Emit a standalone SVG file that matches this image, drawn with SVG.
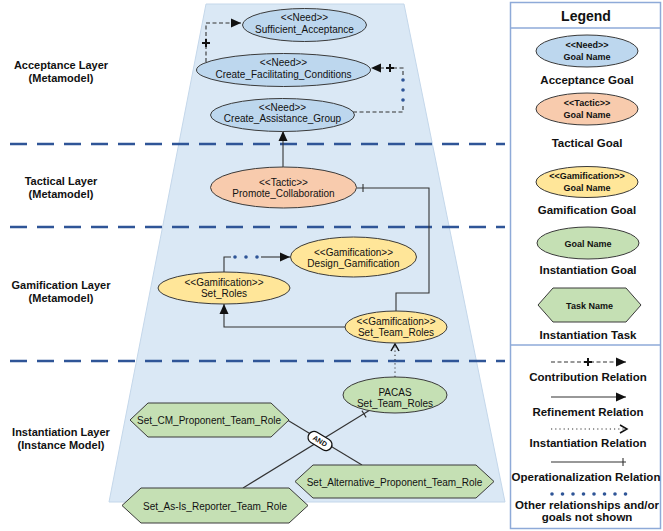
<svg xmlns="http://www.w3.org/2000/svg" width="663" height="531" viewBox="0 0 663 531">
<defs>
<style>
text{font-family:"Liberation Sans",Arial,sans-serif;fill:#111;text-anchor:middle}
.n{font-size:10px}
.lay{font-size:11px;font-weight:bold}
.lg{font-size:11.5px;font-weight:bold}
.ls{font-size:9px;font-weight:bold}
.need{fill:#bdd7ee;stroke:#3a3a3a;stroke-width:1}
.tac{fill:#f8cbad;stroke:#3a3a3a;stroke-width:1}
.gam{fill:#ffe699;stroke:#3a3a3a;stroke-width:1}
.ins{fill:#c5e0b4;stroke:#3a3a3a;stroke-width:1}
.e{fill:none;stroke:#333;stroke-width:1.1}
.dash{stroke-dasharray:4 2.5}
.dot{stroke-dasharray:1.2 3}
.sep{fill:none;stroke:#2f5597;stroke-width:2.5;stroke-dasharray:17 10}
.bd{fill:#2f5597}
.plus{stroke:#111;stroke-width:2;fill:none}
</style>
<marker id="af" markerUnits="userSpaceOnUse" markerWidth="10" markerHeight="10" refX="10" refY="5" orient="auto" viewBox="0 0 10 10">
<path d="M0,0.5 L10,5 L0,9.5 z" fill="#111"/>
</marker>
</defs>

<!-- trapezoid background -->
<polygon points="206,4 404,4 505,502 109,502" fill="#dae8f5" stroke="#c4d7ea" stroke-width="1"/>

<!-- layer separators -->
<g id="separators">
<line class="sep" x1="10" y1="144" x2="505" y2="144"/>
<line class="sep" x1="10" y1="227" x2="505" y2="227"/>
<line class="sep" x1="10" y1="361" x2="505" y2="361"/>
</g>

<!-- layer labels -->
<g id="layer-labels">
<text class="lay" x="61" y="69">Acceptance Layer</text>
<text class="lay" x="61" y="82">(Metamodel)</text>
<text class="lay" x="61" y="185">Tactical Layer</text>
<text class="lay" x="61" y="198">(Metamodel)</text>
<text class="lay" x="61" y="289">Gamification Layer</text>
<text class="lay" x="61" y="302">(Metamodel)</text>
<text class="lay" x="61" y="436">Instantiation Layer</text>
<text class="lay" x="61" y="449">(Instance Model)</text>
</g>

<!-- connectors -->
<g id="connectors">
<!-- CFC -> Sufficient_Acceptance (contribution) -->
<path class="e dash" d="M206,62 V23 H241" marker-end="url(#af)"/>
<path class="plus" d="M202,43 H210 M206,39 V47"/>
<!-- CAG -> CFC (contribution, others not shown) -->
<path class="e dash" d="M353,112 H403 V105"/>
<path class="e dash" d="M403,75 V68 H371" marker-end="url(#af)"/>
<circle class="bd" cx="403" cy="80" r="1.8"/>
<circle class="bd" cx="403" cy="90" r="1.8"/>
<circle class="bd" cx="403" cy="100" r="1.8"/>
<path class="plus" d="M386,68 H394 M390,64 V72"/>
<!-- Promote -> CAG (refinement) -->
<path class="e" d="M283,167 V131" marker-end="url(#af)"/>
<!-- Set_Team_Roles -> Promote (operationalization) -->
<path class="e" d="M396,311 V293 H429 V188 H357"/>
<path class="e" d="M363,184 V192"/>
<!-- Set_Roles -> Design_Gamification -->
<path class="e" d="M224,272 V257 H231"/>
<circle class="bd" cx="235" cy="257" r="1.8"/>
<circle class="bd" cx="246" cy="257" r="1.8"/>
<circle class="bd" cx="257" cy="257" r="1.8"/>
<path class="e" d="M261,257 H290" marker-end="url(#af)"/>
<!-- Set_Team_Roles -> Set_Roles (refinement) -->
<path class="e" d="M345,327 H224 V304" marker-end="url(#af)"/>
<!-- PACAS -> Set_Team_Roles (instantiation) -->
<path class="e dot" d="M395,377 V345"/>
<path d="M391,351 L395,344 L399,351" fill="none" stroke="#111" stroke-width="1.5"/>
<!-- AND decomposition -->
<path class="e" d="M284,418 L362,465"/>
<path class="e" d="M243,488 L370,410"/>
<path class="e" d="M361.9,410.6 L366.1,417.4"/>
<g transform="translate(320,441) rotate(31)">
<rect x="-13" y="-6" width="26" height="12" rx="6" fill="#fff" stroke="#111" stroke-width="1.3"/>
<text x="0" y="2.5" style="font-size:7px;font-weight:bold">AND</text>
</g>
</g>

<!-- nodes -->
<g id="sufficient-acceptance">
<ellipse class="need" cx="304.5" cy="25" rx="62" ry="16.5"/>
<text class="n" x="304.5" y="20.5">&lt;&lt;Need&gt;&gt;</text>
<text class="n" x="304.5" y="32.5">Sufficient_Acceptance</text>
</g>
<g id="create-facilitating-conditions">
<ellipse class="need" cx="283.5" cy="70" rx="87" ry="16.5"/>
<text class="n" x="283.5" y="65.5">&lt;&lt;Need&gt;&gt;</text>
<text class="n" x="283.5" y="77.5">Create_Facilitating_Conditions</text>
</g>
<g id="create-assistance-group">
<ellipse class="need" cx="282.5" cy="115" rx="72" ry="16.5"/>
<text class="n" x="282.5" y="110.5">&lt;&lt;Need&gt;&gt;</text>
<text class="n" x="282.5" y="121.5">Create_Assistance_Group</text>
</g>
<g id="promote-collaboration">
<ellipse class="tac" cx="283.5" cy="187.5" rx="73" ry="20.5"/>
<text class="n" x="283.5" y="186">&lt;&lt;Tactic&gt;&gt;</text>
<text class="n" x="283.5" y="197">Promote_Collaboration</text>
</g>
<g id="design-gamification">
<ellipse class="gam" cx="353.5" cy="257" rx="63" ry="20"/>
<text class="n" x="353.5" y="255.5">&lt;&lt;Gamification&gt;&gt;</text>
<text class="n" x="353.5" y="266.5">Design_Gamification</text>
</g>
<g id="set-roles">
<ellipse class="gam" cx="224" cy="288" rx="66" ry="16"/>
<text class="n" x="224" y="285.5">&lt;&lt;Gamification&gt;&gt;</text>
<text class="n" x="224" y="296.5">Set_Roles</text>
</g>
<g id="set-team-roles">
<ellipse class="gam" cx="396" cy="327" rx="51" ry="16"/>
<text class="n" x="396" y="325">&lt;&lt;Gamification&gt;&gt;</text>
<text class="n" x="396" y="336">Set_Team_Roles</text>
</g>
<g id="pacas-set-team-roles">
<ellipse class="ins" cx="395" cy="395" rx="52" ry="18"/>
<text class="n" x="395" y="395.5">PACAS</text>
<text class="n" x="395" y="406.5">Set_Team_Roles</text>
</g>
<g id="set-cm-proponent-team-role">
<polygon class="ins" points="130,420 148,403 271,403 289,420 271,437 148,437"/>
<text class="n" x="209" y="423.5">Set_CM_Proponent_Team_Role</text>
</g>
<g id="set-alternative-proponent-team-role">
<polygon class="ins" points="295,481.5 313,465 476,465 494,481.5 476,498 313,498"/>
<text class="n" x="394.5" y="486">Set_Alternative_Proponent_Team_Role</text>
</g>
<g id="set-as-is-reporter-team-role">
<polygon class="ins" points="122,505.5 141,488 289,488 308,505.5 289,523 141,523"/>
<text class="n" x="215" y="509.5">Set_As-Is_Reporter_Team_Role</text>
</g>

<!-- legend -->
<g id="legend">
<rect x="510.5" y="2.5" width="150" height="526" fill="#fff" stroke="#8eaad8" stroke-width="1.5"/>
<line x1="510.5" y1="28" x2="660.5" y2="28" stroke="#8eaad8" stroke-width="1.5"/>
<line x1="510.5" y1="345" x2="660.5" y2="345" stroke="#8eaad8" stroke-width="1.5"/>
<text x="586" y="20.5" style="font-size:14px;font-weight:bold">Legend</text>

<g id="legend-acceptance-goal">
<ellipse class="need" cx="587" cy="51" rx="51" ry="16"/>
<text class="ls" x="587" y="47.5">&lt;&lt;Need&gt;&gt;</text>
<text class="ls" x="587" y="60">Goal Name</text>
<text class="lg" x="587" y="84">Acceptance Goal</text>
</g>
<g id="legend-tactical-goal">
<ellipse class="tac" cx="587" cy="109" rx="51" ry="16"/>
<text class="ls" x="587" y="105.5">&lt;&lt;Tactic&gt;&gt;</text>
<text class="ls" x="587" y="118">Goal Name</text>
<text class="lg" x="587" y="147">Tactical Goal</text>
</g>
<g id="legend-gamification-goal">
<ellipse class="gam" cx="587" cy="182" rx="51" ry="15.5"/>
<text class="ls" x="587" y="178.5">&lt;&lt;Gamification&gt;&gt;</text>
<text class="ls" x="587" y="190.5">Goal Name</text>
<text class="lg" x="587" y="214">Gamification Goal</text>
</g>
<g id="legend-instantiation-goal">
<ellipse class="ins" cx="588" cy="243" rx="51" ry="16"/>
<text class="ls" x="588" y="246.5">Goal Name</text>
<text class="lg" x="588" y="274">Instantiation Goal</text>
</g>
<g id="legend-instantiation-task">
<polygon class="ins" points="538,305 553,288 626,288 641,305 626,322 553,322"/>
<text class="ls" x="589.5" y="308.5">Task Name</text>
<text class="lg" x="588" y="339">Instantiation Task</text>
</g>
<g id="legend-contribution">
<path class="e dash" d="M551,362 H626" marker-end="url(#af)"/>
<path class="plus" d="M584,362 H592 M588,358 V366"/>
<text class="lg" x="588" y="381">Contribution Relation</text>
</g>
<g id="legend-refinement">
<path class="e" d="M551,397 H626" marker-end="url(#af)"/>
<text class="lg" x="588" y="416">Refinement Relation</text>
</g>
<g id="legend-instantiation">
<path class="e dot" d="M551,429 H624"/>
<path d="M620,425 L627,429 L620,433" fill="none" stroke="#111" stroke-width="1.5"/>
<text class="lg" x="588" y="447">Instantiation Relation</text>
</g>
<g id="legend-operationalization">
<path class="e" d="M551,462 H626"/>
<path class="e" d="M623,458 V466"/>
<text class="lg" x="586" y="481">Operationalization Relation</text>
</g>
<g id="legend-other">
<circle class="bd" cx="552" cy="494" r="1.8"/>
<circle class="bd" cx="562.5" cy="494" r="1.8"/>
<circle class="bd" cx="573" cy="494" r="1.8"/>
<circle class="bd" cx="583.5" cy="494" r="1.8"/>
<circle class="bd" cx="594" cy="494" r="1.8"/>
<circle class="bd" cx="604.5" cy="494" r="1.8"/>
<circle class="bd" cx="615" cy="494" r="1.8"/>
<circle class="bd" cx="625.5" cy="494" r="1.8"/>
<text class="lg" x="587" y="509">Other relationships and/or</text>
<text class="lg" x="587" y="521">goals not shown</text>
</g>
</g>
</svg>
